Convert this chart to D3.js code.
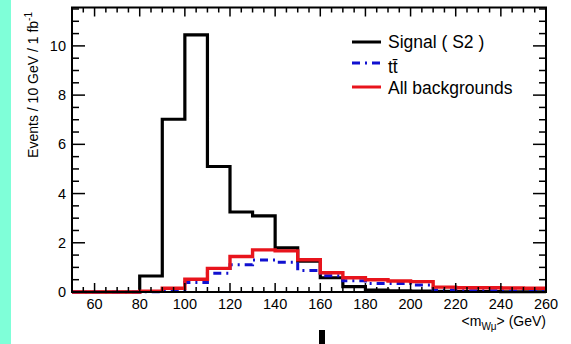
<!DOCTYPE html>
<html>
<head>
<meta charset="utf-8">
<script src="https://cdn.jsdelivr.net/npm/d3@7"></script>
<style>
html,body{margin:0;padding:0;background:#fff;}
svg{display:block;font-family:"Liberation Sans",Arial,Helvetica,sans-serif;}
</style>
</head>
<body>
<svg id="chart" width="571" height="344"></svg>
<script>
// ---- data ----
const binLow = [50,60,70,80,90,100,110,120,130,140,150,160,170,180,190,200,210,220,230,240,250];
const binWidth = 10;
const signalS2 = [0,0,0,0.65,7.02,10.45,5.1,3.25,3.09,1.79,1.25,0.58,0.22,0.08,0.05,0.04,0.03,0.02,0.02,0.01,0.01];
const ttbar    = [0,0,0,0.01,0.05,0.39,0.76,1.11,1.30,1.21,0.87,0.66,0.46,0.35,0.35,0.28,0.08,0.05,0.05,0.04,0.04];
const allBkg   = [0,0,0,0.03,0.15,0.52,0.96,1.44,1.71,1.67,1.31,0.78,0.58,0.50,0.45,0.42,0.20,0.17,0.17,0.16,0.15];
const xTickLabels = [60,80,100,120,140,160,180,200,220,240,260];
const yTickLabels = [0,2,4,6,8,10];
const legendLabels = ["Signal ( S2 )","tt\u0304","All backgrounds"];

// ---- layout ----
const svg = d3.select("#chart");
const L = 72, R = 546, T = 7.5, B = 292;
const x = d3.scaleLinear().domain([50,260]).range([L,R]);
const y = d3.scaleLinear().domain([0,11.56]).range([B,T]);

// left strip
svg.append("rect").attr("x",0).attr("y",0).attr("width",11).attr("height",344).attr("fill","#7fffd8");

// histograms
function histPts(vals){
  const pts = binLow.map((lo,i)=>[lo, vals[i]]);
  pts.push([binLow[binLow.length-1]+binWidth, vals[vals.length-1]]);
  return pts;
}
const line = d3.line().x(d=>x(d[0])).y(d=>y(d[1])).curve(d3.curveStepAfter);
const g = svg.append("g");
g.append("path").attr("d",line(histPts(signalS2))).attr("fill","none").attr("stroke","#000").attr("stroke-width",3.2);
g.append("path").attr("d",line(histPts(ttbar))).attr("fill","none").attr("stroke","#1010d0").attr("stroke-width",3).attr("stroke-dasharray","8,5,2,5");
g.append("path").attr("d",line(histPts(allBkg))).attr("fill","none").attr("stroke","#e8141c").attr("stroke-width",3.4);

// axes with ROOT-like inward ticks
const xMajor = d3.range(60,261,20), xMinor = d3.range(50,261,5);
const yMinor = d3.range(0,11.6,0.5);
const ax = svg.append("g").attr("stroke","#000").attr("stroke-width",1.5);
xMinor.forEach(v=>{
  const len = xMajor.includes(v)?9:5;
  ax.append("line").attr("x1",x(v)).attr("x2",x(v)).attr("y1",B).attr("y2",B-len);
  ax.append("line").attr("x1",x(v)).attr("x2",x(v)).attr("y1",T).attr("y2",T+len);
});
yMinor.forEach(v=>{
  const len = (Math.abs(v%2)<1e-9)?13:7;
  ax.append("line").attr("x1",L).attr("x2",L+len).attr("y1",y(v)).attr("y2",y(v));
  ax.append("line").attr("x1",R).attr("x2",R-len).attr("y1",y(v)).attr("y2",y(v));
});
svg.append("rect").attr("x",L).attr("y",T).attr("width",R-L).attr("height",B-T)
  .attr("fill","none").attr("stroke","#000").attr("stroke-width",2);

// tick labels
svg.append("g").selectAll("text").data(xTickLabels).join("text")
  .attr("x",d=>x(d)).attr("y",B+17).attr("text-anchor","middle").attr("font-size",14.5).text(d=>d);
svg.append("g").selectAll("text").data(yTickLabels).join("text")
  .attr("x",L-6).attr("y",d=>y(d)+5).attr("text-anchor","end").attr("font-size",14.5).text(d=>d);

// axis titles
const xt = svg.append("text").attr("x",R).attr("y",326).attr("text-anchor","end").attr("font-size",14);
xt.append("tspan").text("<m");
xt.append("tspan").attr("font-size",10).attr("dy",4).text("Wμ");
xt.append("tspan").attr("dy",-4).text("> (GeV)");

const yt = svg.append("text").attr("transform","translate(38,12) rotate(-90)").attr("text-anchor","end").attr("font-size",14);
yt.append("tspan").text("Events / 10 GeV / 1 fb");
yt.append("tspan").attr("font-size",10).attr("dy",-6).text("-1");

// legend
const lg = svg.append("g");
const legY = [42,63,87];
const legStyle = [
  {c:"#000",d:null},
  {c:"#1010d0",d:"8,5,2,5"},
  {c:"#e8141c",d:null}
];
legendLabels.forEach((t,i)=>{
  const l = lg.append("line").attr("x1",352).attr("x2",381).attr("y1",legY[i]).attr("y2",legY[i])
    .attr("stroke",legStyle[i].c).attr("stroke-width",3);
  if(legStyle[i].d) l.attr("stroke-dasharray",legStyle[i].d);
});
lg.append("text").attr("x",388).attr("y",48).attr("font-size",17.5).text(legendLabels[0]);
lg.append("text").attr("x",388).attr("y",73).attr("font-size",17.5).text(legendLabels[1]);
lg.append("text").attr("x",388).attr("y",94).attr("font-size",17.5).text(legendLabels[2]);

// stray mark at bottom
svg.append("rect").attr("x",319).attr("y",330).attr("width",6).attr("height",14).attr("fill","#000");
</script>
</body>
</html>
